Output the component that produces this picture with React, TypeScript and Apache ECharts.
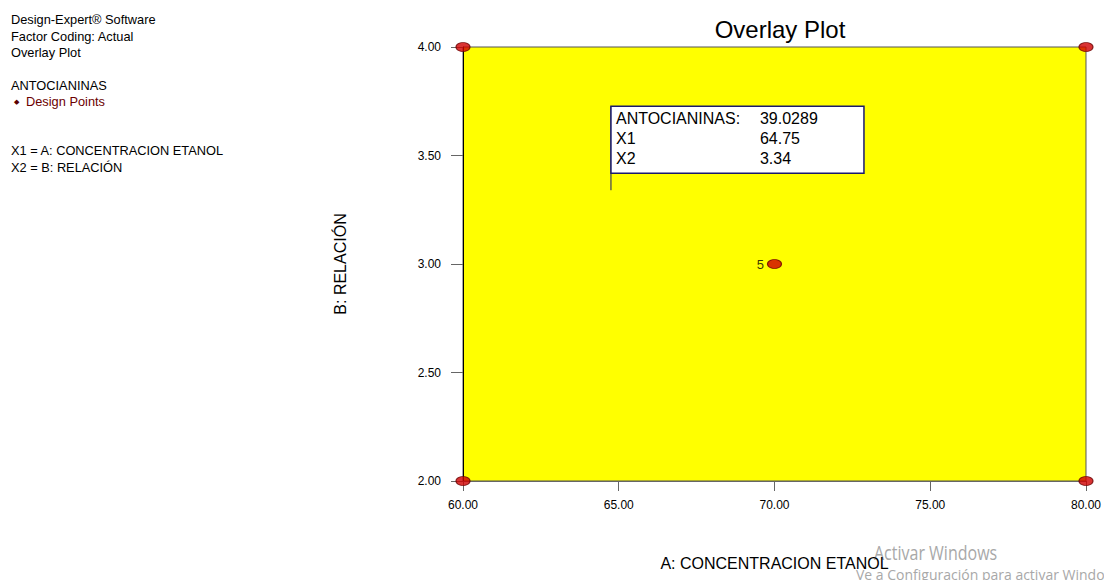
import React, { useEffect, useRef } from "react";
import * as echarts from "echarts";

const xTicks = [60, 65, 70, 75, 80];
const yTicks = [2.0, 2.5, 3.0, 3.5, 4.0];
const designPoints: [number, number][] = [
  [60, 2],
  [60, 4],
  [80, 2],
  [80, 4],
];
const centerPoint: [number, number] = [70, 3];
const centerLabel = "5";
const flagPoint: [number, number] = [64.75, 3.34];
const flagRows = [
  ["ANTOCIANINAS:", "39.0289"],
  ["X1", "64.75"],
  ["X2", "3.34"],
];
const infoLines = [
  "Design-Expert® Software",
  "Factor Coding: Actual",
  "Overlay Plot",
];
const FONT = "'Liberation Sans', Arial, sans-serif";

export default function App() {
  const ref = useRef<HTMLDivElement>(null);
  useEffect(() => {
    const chart = echarts.init(ref.current!, undefined, { renderer: "svg" });
    const infoText = (t: string, x: number, y: number, color = "#000") => ({
      type: "text",
      left: x,
      top: y,
      style: { text: t, font: `12.8px ${FONT}`, fill: color },
    });
    chart.setOption({
      animation: false,
      backgroundColor: "#fff",
      title: {
        text: "Overlay Plot",
        left: 775,
        top: 12,
        textAlign: "center",
        textStyle: { fontFamily: FONT, fontSize: 24, fontWeight: "normal", color: "#000" },
      },
      grid: {
        left: 463,
        right: 15,
        top: 47,
        bottom: 99,
        show: true,
        backgroundColor: "#ffff00",
        borderColor: "#555",
        borderWidth: 1,
      },
      xAxis: {
        type: "value",
        min: xTicks[0],
        max: xTicks[xTicks.length - 1],
        interval: 5,
        name: "A: CONCENTRACION ETANOL",
        nameLocation: "middle",
        nameGap: 74,
        nameTextStyle: { fontFamily: FONT, fontSize: 16, color: "#000" },
        axisLine: { lineStyle: { color: "#666" } },
        axisTick: { length: 10, lineStyle: { color: "#666" } },
        axisLabel: {
          fontFamily: FONT,
          fontSize: 12,
          color: "#000",
          margin: 18,
          formatter: (v: number) => v.toFixed(2),
        },
        splitLine: { show: false },
      },
      yAxis: {
        type: "value",
        min: yTicks[0],
        max: yTicks[yTicks.length - 1],
        interval: 0.5,
        name: "B: RELACIÓN",
        nameLocation: "middle",
        nameGap: 115,
        nameTextStyle: { fontFamily: FONT, fontSize: 16, color: "#000" },
        axisLine: { lineStyle: { color: "#000" } },
        axisTick: { length: 12, lineStyle: { color: "#666" } },
        axisLabel: {
          fontFamily: FONT,
          fontSize: 12,
          color: "#000",
          margin: 22,
          formatter: (v: number) => v.toFixed(2),
        },
        splitLine: { show: false },
      },
      graphic: [
        ...infoLines.map((t, i) => infoText(t, 11, 13 + i * 16.5)),
        infoText("ANTOCIANINAS", 11, 79),
        {
          type: "text",
          left: 14,
          top: 98,
          style: { text: "◆", font: `7px ${FONT}`, fill: "#5a0000" },
        },
        infoText("Design Points", 26, 95, "#6b0000"),
        infoText("X1 = A: CONCENTRACION ETANOL", 11, 144),
        infoText("X2 = B: RELACIÓN", 11, 161),
        {
          type: "text",
          x: 874,
          y: 542,
          scaleX: 0.8,
          style: { text: "Activar Windows", font: "20px 'Open Sans', sans-serif", fill: "#a8a8a8" },
        },
        {
          type: "text",
          x: 856,
          y: 567,
          style: {
            text: "Ve a Configuración para activar Windows",
            font: "14px 'Open Sans', sans-serif",
            fill: "#a8a8a8",
          },
        },
      ],
      series: [
        {
          type: "scatter",
          data: designPoints,
          symbol: "circle",
          symbolSize: [14, 9],
          clip: false,
          z: 5,
          itemStyle: { color: "#d00000", borderColor: "#6a0000", borderWidth: 1 },
        },
        {
          type: "scatter",
          data: [centerPoint],
          symbol: "circle",
          symbolSize: [14, 9],
          clip: false,
          z: 5,
          itemStyle: { color: "#d00000", borderColor: "#6a0000", borderWidth: 1 },
          label: {
            show: true,
            position: "left",
            distance: 3,
            formatter: () => centerLabel,
            fontFamily: FONT,
            fontSize: 13,
            color: "#000",
          },
        },
        {
          type: "custom",
          data: [flagPoint],
          clip: false,
          z: 10,
          renderItem: (params: any, api: any) => {
            const p = api.coord([api.value(0), api.value(1)]);
            const left = p[0];
            const top = p[1] - 84;
            const w = 253;
            const h = 67;
            const children: any[] = [
              {
                type: "line",
                shape: { x1: left, y1: p[1], x2: left, y2: top },
                style: { stroke: "#1a1a6e", lineWidth: 1 },
              },
              {
                type: "rect",
                shape: { x: left, y: top, width: w, height: h },
                style: { fill: "#fff", stroke: "#1a1a6e", lineWidth: 1.5 },
              },
            ];
            flagRows.forEach((row, i) => {
              children.push({
                type: "text",
                x: left + 5,
                y: top + 12 + i * 20,
                style: { text: row[0], font: `16px ${FONT}`, fill: "#000", verticalAlign: "middle" },
              });
              children.push({
                type: "text",
                x: left + 149,
                y: top + 12 + i * 20,
                style: { text: row[1], font: `16px ${FONT}`, fill: "#000", verticalAlign: "middle" },
              });
            });
            return { type: "group", children };
          },
        },
      ],
    });
    return () => chart.dispose();
  }, []);
  return (
    <div
      ref={ref}
      style={{ position: "fixed", left: 0, top: 0, width: 1104, height: 580 }}
    />
  );
}
